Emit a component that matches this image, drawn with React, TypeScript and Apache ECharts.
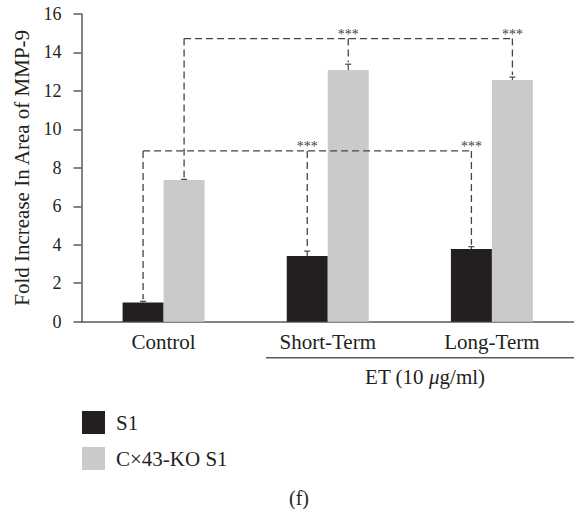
import React, { useEffect, useRef } from "react";
import * as echarts from "echarts";

const categories = ["Control", "Short-Term", "Long-Term"];
const s1Values = [1.0, 3.42, 3.78];
const s1Errors = [0.06, 0.25, 0.12];
const koValues = [7.37, 13.09, 12.57];
const koErrors = [0.03, 0.3, 0.15];
const bracketLevels = [8.88, 14.72]; // S1 comparison, KO comparison
const sigLabels = ["", "***", "***"];
const seriesNames = ["S1", "C\u00d743-KO S1"];
const yTicks = { min: 0, max: 16, interval: 2 };

const FONT = "Times New Roman, serif";
const TEXT = "#231f20";
const AXIS = "#5a5a5a";
const DASH = "#444444";
const BAR_W = 41;

export default function App() {
  const ref = useRef<HTMLDivElement>(null);
  useEffect(() => {
    document.body.style.margin = "0";
    const chart = echarts.init(ref.current!, null, { renderer: "svg" });

    const tops = [
      s1Values.map((v, i) => v + s1Errors[i]),
      koValues.map((v, i) => v + koErrors[i]),
    ];

    const errRender = (params: any, api: any) => {
      const cat = api.value(0);
      const v = api.value(1);
      const e = api.value(2);
      const side = api.value(3);
      const p1 = api.coord([cat, v]);
      const p2 = api.coord([cat, v + e]);
      const x = p1[0] + side * (BAR_W / 2);
      const st = { stroke: DASH, lineWidth: 1.2 };
      return {
        type: "group",
        children: [
          { type: "line", shape: { x1: x, y1: p1[1], x2: x, y2: p2[1] }, style: st },
          { type: "line", shape: { x1: x - 3, y1: p2[1], x2: x + 3, y2: p2[1] }, style: st },
        ],
      };
    };

    const bracketRender = (params: any, api: any) => {
      const side = api.value(0);
      const level = api.value(1);
      const sign = side === 0 ? -1 : 1;
      const off = sign * (BAR_W / 2);
      const st = { stroke: DASH, lineWidth: 1.3, lineDash: [7, 4], fill: null };
      const children: any[] = [];
      const left = api.coord([0, level]);
      const right = api.coord([categories.length - 1, level]);
      children.push({
        type: "line",
        shape: { x1: left[0] + off, y1: left[1], x2: right[0] + off, y2: right[1] },
        style: st,
      });
      categories.forEach((c, i) => {
        const top = api.coord([i, tops[side][i]]);
        const lv = api.coord([i, level]);
        children.push({
          type: "line",
          shape: { x1: lv[0] + off, y1: lv[1], x2: top[0] + off, y2: top[1] - 2 },
          style: st,
        });
        if (sigLabels[i]) {
          children.push({
            type: "text",
            x: lv[0] + off,
            y: lv[1] - 4,
            style: {
              text: sigLabels[i],
              fontSize: 14,
              fontFamily: FONT,
              fill: DASH,
              align: "center",
              verticalAlign: "middle",
            },
          });
        }
      });
      return { type: "group", children };
    };

    chart.setOption({
      animation: false,
      textStyle: { fontFamily: FONT },
      grid: { left: 81.5, top: 14, height: 307.7, width: 506, containLabel: false },
      legend: {
        data: seriesNames,
        orient: "vertical",
        left: 82,
        top: 411,
        padding: 0,
        itemWidth: 23,
        itemHeight: 23,
        itemGap: 13,
        icon: "rect",
        selectedMode: false,
        textStyle: { fontFamily: FONT, fontSize: 21, color: TEXT, padding: [0, 0, 0, 6], lineHeight: 23 },
      },
      xAxis: {
        type: "category",
        data: categories,
        axisLine: { lineStyle: { color: AXIS, width: 1.5 } },
        axisTick: { show: false },
        axisLabel: { fontFamily: FONT, fontSize: 21, color: TEXT, margin: 10 },
      },
      yAxis: {
        type: "value",
        min: yTicks.min,
        max: yTicks.max,
        interval: yTicks.interval,
        name: "Fold Increase In Area of MMP-9",
        nameLocation: "middle",
        nameGap: 48,
        nameTextStyle: { fontFamily: FONT, fontSize: 21, color: TEXT },
        axisLine: { show: true, lineStyle: { color: AXIS, width: 1.5 } },
        axisTick: { show: true, length: 8, lineStyle: { color: AXIS, width: 1.5 } },
        axisLabel: { fontFamily: FONT, fontSize: 18, color: TEXT, margin: 20 },
        splitLine: { show: false },
      },
      series: [
        {
          name: seriesNames[0],
          type: "bar",
          data: s1Values,
          barWidth: BAR_W,
          barGap: "0%",
          itemStyle: { color: "#231f20" },
        },
        {
          name: seriesNames[1],
          type: "bar",
          data: koValues,
          barWidth: BAR_W,
          barGap: "0%",
          itemStyle: { color: "#c9cac9" },
        },
        {
          type: "custom",
          renderItem: errRender,
          data: s1Values.map((v, i) => [i, v, s1Errors[i], -1]),
          z: 5,
          silent: true,
        },
        {
          type: "custom",
          renderItem: errRender,
          data: koValues.map((v, i) => [i, v, koErrors[i], 1]),
          z: 5,
          silent: true,
        },
        {
          type: "custom",
          renderItem: bracketRender,
          data: bracketLevels.map((lv, s) => [s, lv]),
          z: 6,
          silent: true,
        },
      ],
      graphic: [
        {
          type: "line",
          shape: { x1: 266, y1: 357.7, x2: 574, y2: 357.7 },
          style: { stroke: AXIS, lineWidth: 1.5 },
        },
        {
          type: "text",
          x: 425,
          y: 377,
          style: {
            text: "{a|ET (10 }{b|\u03bc}{a|g/ml)}",
            align: "center",
            verticalAlign: "middle",
            rich: {
              a: { fontFamily: FONT, fontSize: 21, fill: TEXT },
              b: { fontFamily: FONT, fontSize: 21, fill: TEXT, fontStyle: "italic" },
            },
          },
        },
        {
          type: "text",
          x: 299,
          y: 498,
          style: {
            text: "(f)",
            align: "center",
            verticalAlign: "middle",
            fontFamily: FONT,
            fontSize: 20,
            fill: TEXT,
          },
        },
      ],
    });
    return () => chart.dispose();
  }, []);
  return <div ref={ref} style={{ width: 574, height: 509 }} />;
}
